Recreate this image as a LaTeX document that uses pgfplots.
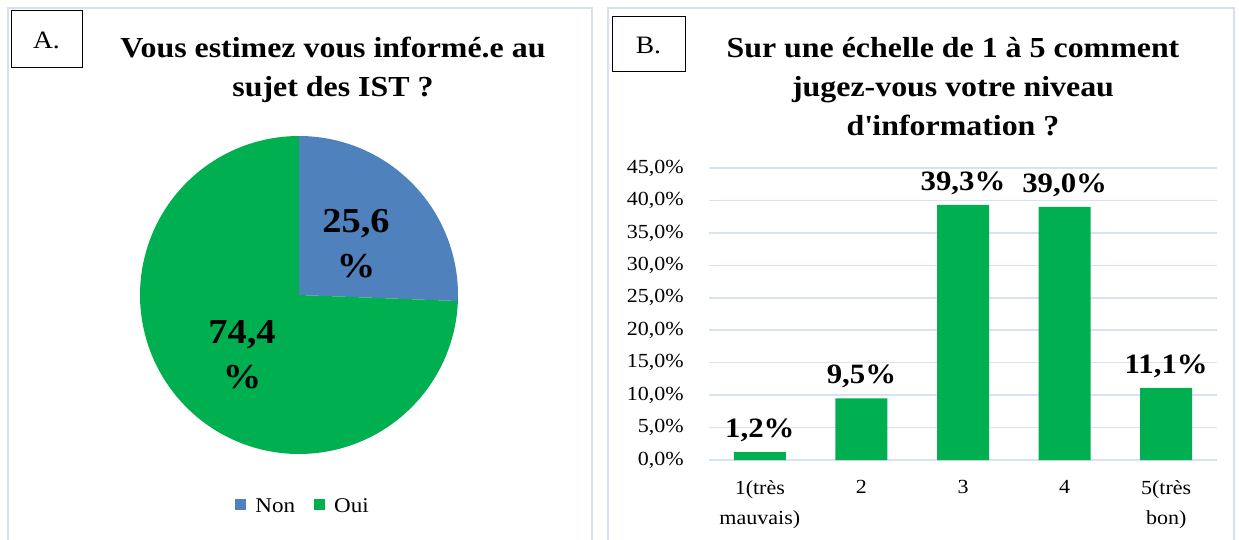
\documentclass[border=0pt]{standalone}
\usepackage{fontspec}
\setmainfont[FakeStretch=1.1]{Liberation Serif}
\usepackage{pgfplots}
\pgfplotsset{compat=1.18}
\definecolor{pieblue}{HTML}{4F81BD}
\definecolor{bargreen}{HTML}{00B050}
\definecolor{gridblue}{HTML}{D9E2F3}
\definecolor{framecol}{HTML}{D6E0F0}
\newcommand{\fs}[2]{\fontsize{#1}{#2}\selectfont}

\begin{document}
\begin{tikzpicture}[x=1pt,y=1pt]
\useasboundingbox (0,0) rectangle (1239,539);
% panel frames, open at the bottom
\draw[framecol, line width=1.5pt] (8,-2) -- (8,531) -- (592,531) -- (592,-2);
\draw[framecol, line width=1.5pt] (608,-2) -- (608,531) -- (1234,531) -- (1234,-2);
% panel letters
\draw[black, line width=1pt] (11,528) rectangle (82,471);
\node[font=\fs{25}{28}] at (46.5,499) {A.};
\draw[black, line width=1pt] (612,522) rectangle (685,467);
\node[font=\fs{25}{28}] at (648.5,494) {B.};
% titles
\node[anchor=base, font=\bfseries\fs{29}{39}] at (333,481) {Vous estimez vous informé.e au};
\node[anchor=base, font=\bfseries\fs{29}{39}] at (333,442) {sujet des IST ?};
\node[anchor=base, font=\bfseries\fs{29}{39}] at (953,481) {Sur une échelle de 1 à 5 comment};
\node[anchor=base, font=\bfseries\fs{29}{39}] at (953,442) {jugez-vous votre niveau};
\node[anchor=base, font=\bfseries\fs{29}{39}] at (953,403) {d\textquotesingle information ?};

% ---- A: pie ----
\def\non{25.6}
\def\oui{74.4}
\pgfmathsetmacro{\cut}{90-3.6*\non}
\begin{axis}[
    at={(299pt,244pt)}, anchor=center,
    scale only axis, width=318pt, height=318pt,
    xmin=-1, xmax=1, ymin=-1, ymax=1,
    hide axis, clip=false,
    legend style={at={(0.513,-0.164)}, anchor=center, draw=none, fill=none,
        legend columns=2, font=\fs{21}{24}, inner sep=0pt,
        /tikz/every odd column/.append style={column sep=7pt},
        /tikz/every even column/.append style={column sep=17pt}},
    legend image code/.code={\fill[#1] (0pt,-4pt) rectangle (11pt,7pt);},
]
\addplot[fill=pieblue, draw=none, domain=\cut:90, samples=90, variable=\t]
    ({cos(\t)},{sin(\t)}) -- (0,0) -- cycle;
\addlegendentry{Non}
\addplot[fill=bargreen, draw=none, domain=-270:\cut, samples=240, variable=\t]
    ({cos(\t)},{sin(\t)}) -- (0,0) -- cycle;
\addlegendentry{Oui}
\end{axis}
\node[anchor=base, font=\bfseries\fs{35}{40}] at (356,306) {25,6};
\node[anchor=base, font=\bfseries\fs{35}{40}] at (356,262) {\%};
\node[anchor=base, font=\bfseries\fs{35}{40}] at (242,196) {74,4};
\node[anchor=base, font=\bfseries\fs{35}{40}] at (242,151) {\%};

% ---- B: bars ----
\begin{axis}[
    at={(709pt,79pt)}, anchor=south west,
    scale only axis, width=508pt, height=292pt,
    xmin=0.5, xmax=5.5, ymin=0, ymax=45,
    ybar, bar width=52pt,
    xtick={1,...,5},
    xticklabels={{1(très\\mauvais)},2,3,4,{5(très\\bon)}},
    xticklabel style={align=center, font=\fs{20}{30}, anchor=north, inner sep=0pt, yshift=-20pt},
    ytick={0,5,...,45},
    yticklabel={\pgfmathprintnumber[fixed,fixed zerofill,precision=1,use comma]{\tick}\%},
    yticklabel style={font=\fs{20}{24}, anchor=east, inner sep=0pt, xshift=-25pt},
    /pgf/number format/assume math mode=true,
    major tick length=0pt,
    ymajorgrids, grid style={gridblue, line width=1.5pt},
    axis x line*=bottom, axis y line*=left,
    x axis line style={gridblue, line width=1.5pt, -},
    y axis line style={draw=none},
    nodes near coords={\pgfmathprintnumber[fixed,fixed zerofill,precision=1,use comma]{\pgfplotspointmeta}\%},
    every node near coord/.append style={font=\bfseries\fs{28}{32}, inner sep=0pt, yshift=10pt},
    clip=false,
]
\addplot[fill=bargreen, draw=none] coordinates {(1,1.2) (2,9.5) (3,39.3) (4,39.0) (5,11.1)};
\end{axis}
\end{tikzpicture}
\end{document}
